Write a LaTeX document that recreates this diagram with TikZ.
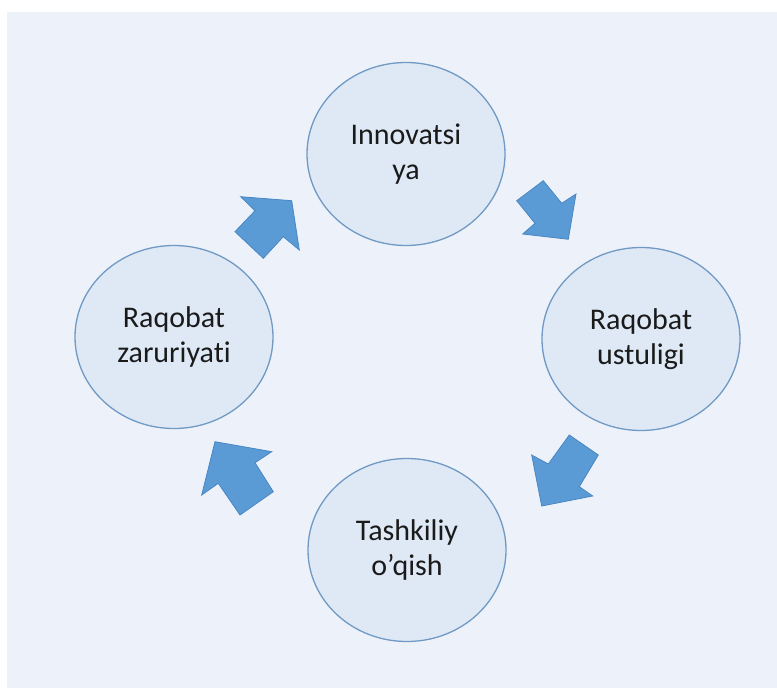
\documentclass[tikz,border=0pt]{standalone}
\usepackage{fontspec}
\setmainfont{Carlito}[Ligatures=NoCommon]
\usetikzlibrary{shapes.geometric}

\definecolor{bgblue}{HTML}{EDF2FA}
\definecolor{bubblefill}{HTML}{DEE9F5}
\definecolor{bubbleline}{HTML}{7099C4}
\definecolor{arrowfill}{HTML}{5B9BD5}
\definecolor{arrowline}{HTML}{4A86C2}
\definecolor{textgray}{HTML}{1A1A1A}

\tikzset{bubble/.style={ellipse,draw=bubbleline,fill=bubblefill,line width=1.3pt,
    minimum width=198pt,minimum height=183pt,inner sep=0pt,align=center,
    text=textgray,font=\fontsize{30}{35}\selectfont}}
\tikzset{blockarrow/.style={fill=arrowfill,draw=arrowline,line width=0.8pt,line join=miter}}

\begin{document}
\begin{tikzpicture}[x=1pt,y=-1pt]
        \useasboundingbox (0,0) rectangle (777,688);
        \fill[bgblue] (7,12) rectangle (777,688);
        % the four stages
        \node[bubble] (innov) at (406,154) {Innovatsi\\ya};
        \node[bubble] (ustun) at (641,339) {Raqobat\\ustuligi};
        \node[bubble] (oqish) at (407,550) {Tashkiliy\\o’qish};
        \node[bubble] (zarur) at (174,337) {Raqobat\\zaruriyati};
        % block arrows between them
        \draw[blockarrow] (516.7,200.7) -- (543.3,180.7) -- (561.7,203.3) -- (576,194) -- (568.3,239.3) -- (522.7,234) -- (535,223.3) -- cycle;
        \draw[blockarrow] (569.3,435) -- (598.3,455) -- (579.3,486.7) -- (592.7,496) -- (541.7,506) -- (531.7,455) -- (548.3,464) -- cycle;
        \draw[blockarrow] (240,515) -- (273.3,491.7) -- (255,462.7) -- (271.7,451.7) -- (215,441.7) -- (201.7,495) -- (218.3,483.3) -- cycle;
        \draw[blockarrow] (235,231.7) -- (255,210.7) -- (240.7,196.7) -- (291.7,200.7) -- (299.3,250) -- (283.3,236.7) -- (263.3,258.3) -- cycle;
    \end{tikzpicture}
\end{document}
